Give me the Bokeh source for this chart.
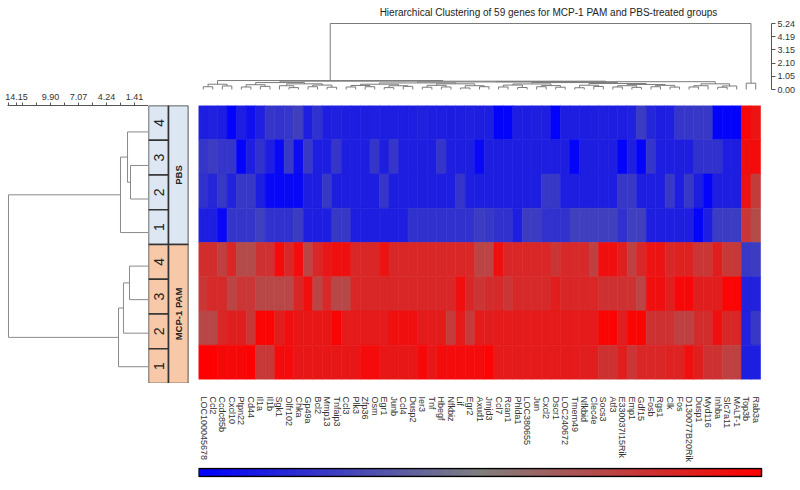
import numpy as np
from bokeh.plotting import figure
from bokeh.models import (Range1d, FactorRange, LinearColorMapper, LinearAxis,
                          FixedTicker, PrintfTickFormatter, Label, ColumnDataSource)
from bokeh.layouts import row, column
from bokeh.transform import transform
from bokeh.core.properties import value
from bokeh.embed import file_html
from bokeh.resources import INLINE

FONT = "Liberation Sans"

# ---------------- data ----------------
TITLE = "Hierarchical Clustering of 59 genes for MCP-1 PAM and PBS-treated groups"

GENES = ["LOC100045678", "Ccl2", "Ccdc85b", "Cxcl10", "Ptpn22", "Cd44", "Il1a", "Il1b",
         "Sgk1", "Olfr102", "Chka", "Gp49a", "Bcl2", "Mmp13", "Tnfaip3", "Ccl3", "Plk3",
         "Zfp36", "Osm", "Egr1", "Junb", "Ccl4", "Dusp2", "Ier3", "Tnf", "Hbegf", "Nfkbiz",
         "Lif", "Egr2", "Axud1", "Jmjd3", "Ccl7", "Rcan1", "Phlda1", "LOC380655", "Jun",
         "Cxcl2", "Dscr1", "LOC240672", "Tmem49", "Nfkbid", "Clec4e", "Socs3", "Atf3",
         "E330037I15Rik", "Emp1", "Gdf15", "Fosb", "Rgs1", "Clk", "Fos", "D130077B20Rik",
         "Dusp1", "Myd116", "Inhba", "Slc7a11", "MALT-1", "Top3b", "Rab3a"]

ROW_IDS = ["PBS 4", "PBS 3", "PBS 2", "PBS 1",
           "MCP-1 PAM 4", "MCP-1 PAM 3", "MCP-1 PAM 2", "MCP-1 PAM 1"]
ROW_GROUP = ["PBS", "PBS", "PBS", "PBS", "MCP-1 PAM", "MCP-1 PAM", "MCP-1 PAM", "MCP-1 PAM"]
ROW_REP = ["4", "3", "2", "1", "4", "3", "2", "1"]
GROUP_COLORS = {"PBS": "#dde7f3", "MCP-1 PAM": "#f7c9a9"}

PBS_4 = [-1.30, -1.28, -1.32, -1.66, -1.30, -1.50, -1.28, -1.00, -1.02, -0.98,
         -0.85, -1.30, -1.05, -1.30, -1.28, -1.30, -1.31, -1.30, -1.29, -1.30,
         -1.30, -1.32, -1.30, -1.28, -1.30, -1.30, -1.31, -1.30, -1.29, -1.30,
         -1.30, -1.66, -1.65, -1.30, -1.31, -1.29, -1.30, -1.66, -1.30, -1.30,
         -1.31, -1.30, -1.29, -1.30, -1.30, -1.28, -0.90, -1.20, -1.30, -1.29,
         -1.00, -0.98, -0.95, -0.96, -1.66, -1.65, -1.66, 1.60, 1.45]
PBS_3 = [-1.00, -0.90, -1.00, -1.00, -1.65, -1.30, -1.05, -1.30, -1.60, -0.95,
         -1.55, -0.95, -1.30, -1.30, -1.00, -1.30, -1.30, -1.30, -1.00, -1.30,
         -1.00, -1.30, -1.30, -1.30, -1.30, -1.00, -1.30, -1.30, -1.30, -1.60,
         -1.30, -1.30, -1.30, -1.30, -1.30, -1.30, -1.30, -1.30, -1.30, -1.65,
         -1.30, -1.30, -1.30, -1.30, -1.65, -1.30, -1.65, -1.00, -1.30, -1.30,
         -1.30, -1.30, -1.05, -1.05, -1.05, -1.30, -1.30, 1.50, 1.55]
PBS_2 = [-1.05, -1.20, -0.95, -1.25, -0.95, -0.95, -1.30, -1.60, -1.60, -1.60,
         -1.60, -1.30, -1.30, -0.95, -1.30, -1.30, -1.30, -1.30, -1.30, -1.00,
         -1.30, -1.30, -1.30, -1.30, -1.30, -1.30, -1.30, -1.00, -1.30, -1.30,
         -1.30, -1.30, -1.30, -1.30, -1.30, -1.30, -0.95, -0.95, -1.30, -1.30,
         -1.30, -1.30, -1.30, -1.30, -0.95, -0.95, -1.30, -1.30, -1.30, -0.95,
         -1.30, -0.95, -1.30, -1.65, -1.30, -1.30, -1.30, 1.45, 0.90]
PBS_1 = [-1.30, -1.30, -1.60, -1.00, -1.00, -1.00, -0.85, -1.05, -1.05, -1.05,
         -0.90, -1.30, -1.30, -1.30, -0.95, -0.95, -1.30, -1.30, -1.30, -1.30,
         -1.30, -1.30, -1.05, -1.05, -1.05, -1.05, -1.05, -1.05, -1.05, -0.90,
         -0.95, -1.05, -1.05, -1.30, -0.90, -0.90, -1.05, -1.05, -1.05, -0.85,
         -0.85, -0.85, -0.85, -0.85, -1.05, -0.85, -0.85, -1.30, -1.30, -1.30,
         -1.30, -1.30, -1.65, -1.30, -0.90, -0.90, -0.90, 1.00, 0.70]
MCP_4 = [1.10, 1.10, 0.85, 1.20, 0.70, 0.70, 1.05, 1.05, 1.55, 1.20,
         1.55, 0.80, 1.20, 1.40, 1.50, 1.50, 1.20, 1.20, 1.20, 1.45,
         1.20, 1.20, 1.20, 1.20, 1.20, 1.20, 1.20, 1.20, 1.20, 0.80,
         0.80, 1.50, 1.20, 1.20, 1.20, 1.20, 1.20, 1.00, 1.15, 1.15,
         1.15, 0.85, 1.50, 1.50, 1.30, 0.85, 1.20, 1.45, 1.45, 1.20,
         1.25, 1.25, 1.00, 1.00, 1.30, 0.95, 0.95, -0.95, -0.90]
MCP_3 = [1.00, 1.15, 1.15, 0.80, 1.00, 1.00, 0.75, 0.75, 0.75, 0.75,
         1.20, 1.50, 0.80, 1.15, 0.75, 0.75, 1.20, 1.20, 1.20, 1.20,
         1.20, 1.20, 1.20, 1.20, 1.20, 1.20, 1.20, 1.50, 1.20, 1.00,
         1.10, 1.15, 1.00, 1.15, 1.15, 1.15, 1.15, 1.30, 1.20, 1.20,
         1.20, 1.20, 1.05, 1.05, 1.05, 1.05, 0.80, 1.50, 1.50, 1.30,
         1.60, 1.60, 1.30, 1.30, 1.30, 1.65, 1.65, -1.25, -1.25]
MCP_2 = [0.75, 0.75, 1.20, 1.30, 1.30, 1.00, 1.65, 1.65, 1.30, 1.50,
         1.40, 1.40, 1.40, 1.40, 1.65, 1.35, 1.35, 1.35, 1.35, 1.35,
         1.50, 1.50, 1.50, 1.35, 1.35, 1.35, 0.90, 1.35, 0.90, 1.35,
         1.30, 1.35, 1.35, 1.35, 1.35, 1.35, 1.35, 1.35, 1.35, 1.35,
         1.35, 1.35, 1.65, 1.65, 1.30, 1.65, 1.65, 1.05, 1.05, 1.05,
         0.85, 0.85, 1.10, 1.10, 1.50, 1.20, 1.20, -1.25, -0.95]
MCP_1 = [1.70, 1.70, 1.60, 1.60, 1.60, 1.70, 0.95, 0.95, 1.55, 1.55,
         1.40, 1.40, 1.40, 1.40, 1.40, 1.40, 1.40, 1.55, 1.55, 1.40,
         1.40, 1.40, 1.40, 1.60, 1.40, 1.55, 1.55, 1.55, 1.55, 1.55,
         1.65, 1.35, 1.35, 1.35, 1.35, 1.35, 1.35, 1.35, 1.35, 1.35,
         1.30, 1.30, 1.05, 1.05, 1.30, 1.00, 1.20, 1.20, 1.20, 1.25,
         1.25, 1.50, 1.30, 1.05, 1.05, 0.85, 0.85, -1.30, -1.30]
ROW_VALUES = [PBS_4, PBS_3, PBS_2, PBS_1, MCP_4, MCP_3, MCP_2, MCP_1]

# sample dendrogram: [left, right, height], leaves = row index (top to bottom)
SAMPLE_TREE = [[[0, [1, 2, 1.82], 2.12], 3, 2.83],
               [[[4, 5, 1.92], 6, 2.53], 7, 3.03], 14.15]

# gene dendrogram: [left, right, height], leaves = gene index
TREE_A = [[0, 1, 0.22], [2, 3, 0.28], 0.42]
TREE_B1 = [[[4, 5, 0.20], [6, 7, 0.25], 0.38],
           [[8, [9, 10, 0.15], 0.30], [[11, 12, 0.22], [13, 14, 0.18], 0.35], 0.45], 0.55]
TREE_G1 = [[15, 16, 0.20], [17, 18, 0.22], 0.32]
TREE_G2 = [[19, 20, 0.15], [21, 22, 0.25], 0.30]
TREE_G3 = [[23, 24, 0.18], [25, 26, 0.20], 0.33]
TREE_G4 = [[27, 28, 0.12], [29, 30, 0.22], 0.30]
TREE_G5 = [[31, 32, 0.20], [33, 34, 0.16], 0.35]
TREE_G6 = [[35, 36, 0.22], [37, 38, 0.18], 0.31]
TREE_G7 = [[39, 40, 0.14], [41, 42, 0.24], 0.34]
TREE_G8 = [[43, 44, 0.20], [45, 46, 0.17], 0.30]
TREE_G9 = [[47, 48, 0.22], [49, 50, 0.19], 0.33]
TREE_B2A = [[[TREE_G1, TREE_G2, 0.42], [TREE_G3, TREE_G4, 0.45], 0.52],
            [[TREE_G5, TREE_G6, 0.44], [TREE_G7, [TREE_G8, TREE_G9, 0.40], 0.48], 0.55], 0.60]
TREE_B2B = [[[51, 52, 0.20], 53, 0.30], [[54, 55, 0.18], 56, 0.28], 0.45]
TREE_LEFT = [TREE_A, [TREE_B1, [TREE_B2A, TREE_B2B, 0.62], 0.66], 0.71]
TREE_RIGHT = [57, 58, 0.50]
GENE_TREE = [TREE_LEFT, TREE_RIGHT, 5.24]

GENE_AXIS_TICKS = [0.00, 1.05, 2.10, 3.15, 4.19, 5.24]
SAMPLE_AXIS_STEP = 1.415
SAMPLE_AXIS_LABELS = {1: "1.41", 3: "4.24", 5: "7.07", 7: "9.90"}
SAMPLE_AXIS_END_LABEL = "14.15"
COLOR_LOW, COLOR_HIGH = -1.71, 1.71
COLOR_LABELS = ["-1.71", "0.00", "1.71"]

assert len(GENES) == 59 and all(len(r) == 59 for r in ROW_VALUES)

# ---------------- layout constants (pixels) ----------------
HM_W, HM_H = 562, 278          # heatmap cells area
FRAME_W = 573                  # right-column frame width (heatmap + gap to axis)
RIGHT_BORDER = 29
COLW = HM_W / len(GENES)
ROW_PX = HM_H / len(ROW_IDS)
TD_PX = 66 / GENE_TREE[2]
LD_MAX = 14.25
LD_PX = 141 / LD_MAX

COMMON = dict(toolbar_location=None, output_backend="svg", min_border=0,
              outline_line_color=None, background_fill_color="white",
              border_fill_color="white")


def mix(c1, c2, t):
    return tuple(int(round(a + (b - a) * t)) for a, b in zip(c1, c2))


PALETTE = []
for i in range(256):
    t = i / 255
    if t <= 0.5:
        c = mix((0, 0, 255), (128, 128, 128), t / 0.5)
    else:
        c = mix((128, 128, 128), (255, 0, 0), (t - 0.5) / 0.5)
    PALETTE.append("#%02x%02x%02x" % c)
mapper = LinearColorMapper(palette=PALETTE, low=COLOR_LOW, high=COLOR_HIGH)


def dendro(node, leaf_pos):
    if isinstance(node, int):
        return leaf_pos(node), 0.0, [], []
    left, right, h = node
    pl, hl, pos_l, hgt_l = dendro(left, leaf_pos)
    pr, hr, pos_r, hgt_r = dendro(right, leaf_pos)
    pos = pos_l + pos_r + [[pl, pl, pr, pr]]
    hgt = hgt_l + hgt_r + [[hl, h, h, hr]]
    return (pl + pr) / 2, h, pos, hgt


def style_axis(ax):
    ax.axis_line_color = "#555555"
    ax.major_tick_line_color = "#555555"
    ax.minor_tick_line_color = None
    ax.major_tick_in = 0
    ax.major_tick_out = 3
    ax.major_label_text_font = FONT
    ax.major_label_text_font_size = "9px"
    ax.major_label_text_color = "#333333"


# ---------------- left dendrogram ----------------
p_left = figure(width=148, height=383, x_range=Range1d(LD_MAX, 0),
                y_range=Range1d(0, len(ROW_IDS) + 10 / ROW_PX),
                x_axis_location=None, y_axis_location=None, **COMMON)
p_left.min_border_top = 95
p_left.min_border_left = 7
p_left.grid.visible = False
_, _, lpos, lhgt = dendro(SAMPLE_TREE, lambda i: len(ROW_IDS) - 0.5 - i)
p_left.multi_line(xs=lhgt, ys=lpos, line_color="#8a8a8a", line_width=1)
ticks = [SAMPLE_AXIS_STEP * k for k in range(11)]
overrides = {t: SAMPLE_AXIS_LABELS.get(k, "") for k, t in enumerate(ticks)}
# the end label sits shifted inwards so it stays inside the page
end_label_at = ticks[-1] - 8 / LD_PX
overrides[end_label_at] = SAMPLE_AXIS_END_LABEL
ax_l = LinearAxis(ticker=FixedTicker(ticks=ticks + [end_label_at]),
                  major_label_overrides=overrides)
style_axis(ax_l)
ax_l.major_label_standoff = 3
p_left.add_layout(ax_l, "above")

# ---------------- annotation boxes ----------------
p_ann = figure(width=50, height=383, x_range=FactorRange("rep", "grp"),
               y_range=Range1d(0, len(ROW_IDS)),
               x_axis_location=None, y_axis_location=None, **COMMON)
p_ann.min_border_top = 105
p_ann.min_border_right = 10
p_ann.grid.visible = False
ry = [len(ROW_IDS) - 0.5 - i for i in range(len(ROW_IDS))]
rep_src = ColumnDataSource(dict(x=["rep"] * len(ROW_IDS), y=ry, t=ROW_REP,
                                c=[GROUP_COLORS[g] for g in ROW_GROUP]))
p_ann.rect(x="x", y="y", width=1, height=1, fill_color="c", line_color="#333333",
           line_width=1.4, source=rep_src)
p_ann.text(x="x", y="y", text="t", angle=np.pi / 2, text_align="center",
           text_baseline="middle", text_font=value(FONT), text_font_size=value("14px"),
           text_color="#222222", source=rep_src)
groups = list(dict.fromkeys(ROW_GROUP))
gy, gh = [], []
for g in groups:
    ys_ = [ry[i] for i, gg in enumerate(ROW_GROUP) if gg == g]
    gy.append(sum(ys_) / len(ys_))
    gh.append(len(ys_))
grp_src = ColumnDataSource(dict(x=["grp"] * len(groups), y=gy, h=gh, t=groups,
                                c=[GROUP_COLORS[g] for g in groups]))
p_ann.rect(x="x", y="y", width=1, height="h", fill_color="c", line_color="#333333",
           line_width=1.6, source=grp_src)
p_ann.text(x="x", y="y", text="t", angle=np.pi / 2, text_align="center",
           text_baseline="middle", text_font=value(FONT), text_font_size=value("9.5px"),
           text_font_style="bold", text_color="#222222", source=grp_src)

# ---------------- top dendrogram ----------------
p_top = figure(width=FRAME_W + RIGHT_BORDER, height=98, x_range=Range1d(0, FRAME_W / COLW),
               y_range=Range1d(-2 / TD_PX, 89 / TD_PX),
               x_axis_location=None, y_axis_location=None, **COMMON)
p_top.min_border_right = RIGHT_BORDER
p_top.min_border_bottom = 7
p_top.grid.visible = False
_, _, tpos, thgt = dendro(GENE_TREE, lambda i: i + 0.5)
p_top.multi_line(xs=tpos, ys=thgt, line_color="#7a7a7a", line_width=1)
ax_t = LinearAxis(bounds=(GENE_AXIS_TICKS[0], GENE_AXIS_TICKS[-1]),
                  ticker=FixedTicker(ticks=GENE_AXIS_TICKS),
                  formatter=PrintfTickFormatter(format="%.2f"))
style_axis(ax_t)
ax_t.major_tick_out = 4
ax_t.major_label_standoff = 2
p_top.add_layout(ax_t, "right")
p_top.add_layout(Label(x=(548 - 198) / COLW, y=77 / TD_PX, text=TITLE,
                       text_align="center", text_baseline="middle", text_font=FONT,
                       text_font_size="10px", text_color="#222222"))

# ---------------- heatmap ----------------
hx, hy, hv = [], [], []
for rid, vals in zip(ROW_IDS, ROW_VALUES):
    for gi, v in enumerate(vals):
        hx.append(gi + 0.5)
        hy.append(rid)
        hv.append(v)
hm_src = ColumnDataSource(dict(x=hx, y=hy, v=hv))
p_hm = figure(width=FRAME_W + RIGHT_BORDER, height=367, x_range=Range1d(0, FRAME_W / COLW),
              y_range=FactorRange(*reversed(ROW_IDS)),
              x_axis_location="below", y_axis_location=None, **COMMON)
p_hm.min_border_right = RIGHT_BORDER
p_hm.min_border_top = 7
p_hm.min_border_bottom = 82
p_hm.grid.visible = False
p_hm.rect(x="x", y="y", width=1, height=1, fill_color=transform("v", mapper),
          line_color=transform("v", mapper), line_width=0.6, source=hm_src)
gene_ticks = [i + 0.5 for i in range(len(GENES))]
xa = p_hm.xaxis[0]
xa.ticker = FixedTicker(ticks=gene_ticks)
xa.major_label_overrides = {t: g for t, g in zip(gene_ticks, GENES)}
xa.axis_line_color = None
xa.major_tick_line_color = None
xa.minor_tick_line_color = None
xa.major_label_orientation = "vertical"
xa.major_label_standoff = 11
xa.major_label_text_font = FONT
xa.major_label_text_font_size = "9px"
xa.major_label_text_color = "#333333"

# ---------------- colour bar ----------------
span = COLOR_HIGH - COLOR_LOW
p_cb = figure(width=FRAME_W + RIGHT_BORDER, height=25,
              x_range=Range1d(COLOR_LOW, COLOR_LOW + span * FRAME_W / (HM_W + 1)),
              y_range=Range1d(-1 / 8, 1 + 1 / 8), x_axis_location=None, y_axis_location=None,
              **COMMON)
p_cb.min_border_right = RIGHT_BORDER
p_cb.min_border_top = 2
p_cb.min_border_bottom = 13
p_cb.grid.visible = False
ramp = np.linspace(COLOR_LOW, COLOR_HIGH, len(PALETTE)).reshape(1, -1)
p_cb.image(image=[ramp], x=COLOR_LOW, y=0, dw=span, dh=1, color_mapper=mapper)
p_cb.rect(x=(COLOR_LOW + COLOR_HIGH) / 2, y=0.5, width=span, height=1, fill_color=None,
          line_color="black", line_width=1.5)
for xv, txt, al in zip([COLOR_LOW, 0.0, COLOR_HIGH], COLOR_LABELS, ["left", "center", "right"]):
    p_cb.add_layout(Label(x=xv, y=-0.2, text=txt, text_align=al, text_baseline="top",
                          text_font=FONT, text_font_size="8px", text_color="#333333"))

layout = row(p_left, p_ann, column(p_top, p_hm, p_cb))
open("out.html", "w").write(file_html(layout, INLINE))
